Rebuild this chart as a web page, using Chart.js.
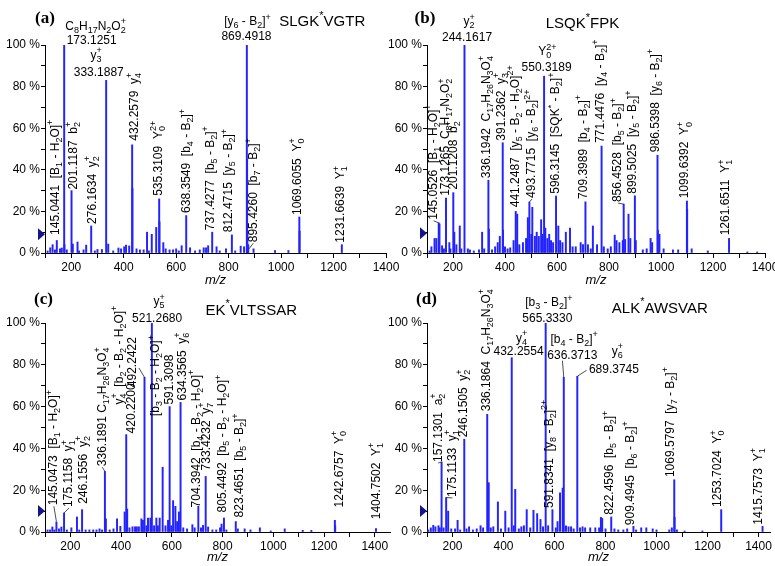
<!DOCTYPE html>
<html>
<head>
<meta charset="utf-8">
<script src="https://cdn.jsdelivr.net/npm/chart.js@4.4.1/dist/chart.umd.min.js"></script>
<style>
  body { margin: 0; background: #fff; width: 775px; height: 566px; overflow: hidden; position: relative; }
  canvas { position: absolute; }
</style>
</head>
<body>
<canvas id="chartA" width="400" height="290" style="left:0;top:0"></canvas>
<canvas id="chartB" width="393" height="290" style="left:382px;top:0"></canvas>
<canvas id="chartC" width="400" height="283" style="left:0;top:283px"></canvas>
<canvas id="chartD" width="393" height="283" style="left:382px;top:283px"></canvas>
<script>
// peaks: [m/z, relative intensity %]
const peaksA = [[110,1],[120,2.5],[129,4],[138,1.5],[145.04,6],[157,2],[164,2.4],[173.13,100],[174.13,4],[183,1.5],[201.12,30],[206,4.3],[224,5.3],[230,1],[247,1.5],[257,3.8],[276.16,13],[290,1],[300,1.7],[317,1.7],[333.19,83],[341,4.3],[360,1],[380,2.4],[390,2],[402,3],[409,3.8],[421,3.4],[432.26,52],[433.26,31],[449,2],[462,1.5],[476,1.5],[489,10],[496,1],[507,9],[524,12.3],[535.31,26],[536.31,15],[551,5],[560,2],[575,1.5],[588,1.5],[600,2],[610,1],[621,3.5],[638.35,18],[653,2.5],[672,1],[690,1.5],[705,2.5],[714,2.5],[722,3.5],[737.43,10],[754,3],[766,1],[790,2],[812.47,8.7],[825,1],[846,3.3],[859,3],[869.49,100],[870.49,45],[871.5,10],[875,4],[895,2],[977,1.2],[1028,1.2],[1069.61,17.3],[1070.61,10.5],[1231.66,4]];
const peaksB = [[110,1],[117,3],[129,7],[136,7],[145.05,14.5],[148,14],[158,3.5],[165,2],[173.13,26.4],[186,5],[190,2],[201.12,29],[205,10],[213,4],[226,13],[232,2],[244.16,100],[257,2],[265,1.5],[280,1],[300,1.5],[312,10],[320,2],[336.19,35],[338,11.5],[350,1.5],[362,3],[372,5],[380,8],[391.24,53],[392.24,11],[400,3],[410,2],[420,2.5],[433,6],[441.25,20],[447,18.7],[455,4],[469,5],[481,7],[488,17],[493.77,24.5],[501,9],[505,22],[515,8],[522,10],[530,8],[539,16],[544,9],[550.32,85],[555,12],[563,7],[570,9],[577,6],[585,5],[596.31,27.4],[605,13],[612,6],[621,5],[634,10],[650,12],[660,3],[672,3],[691,5],[700,4],[709.40,24.6],[719,4],[730,2],[738,13],[754,4],[771.45,51.4],[780,3],[795,2],[807,3],[822,8.6],[829,6],[840,5],[856.45,23.5],[853,6],[862,6.5],[875,18.7],[882,7],[899.50,27.5],[903,6],[930,1.5],[945,2],[960,7],[966,5],[986.54,47],[988,11],[994,9],[1010,2],[1046,1.5],[1066,1.5],[1099.64,25],[1100.64,21],[1118,2],[1180,1],[1261.65,7],[1332,0.5],[1370,0.5]];
const peaksC = [[110,1],[120,1],[129,2.4],[137,1],[145.05,4.8],[155,1.5],[164.6,2.4],[175.12,9.1],[186,1],[204,2],[226,7.2],[235,1],[246.16,10.7],[260,1],[275,1],[290,1],[303,1],[315,1.5],[325,1],[336.19,29],[340,6.3],[355,1],[370,1.5],[384,6.3],[397,2.7],[414,9.6],[420.22,46.6],[424,11],[433,2],[445,2.5],[455,2.5],[462,2.5],[470,2.5],[480,6.3],[486,5.6],[492.24,74],[500,3],[506,6.7],[515.6,6.7],[521.27,100],[530,3],[539,6.7],[545,3],[552,6.7],[563.8,31],[575,3],[585,5.6],[591.31,60],[598,3],[605,15],[614,12.3],[621,5],[628,9.6],[634.36,62],[645,2],[660,1.5],[681,3.5],[690,2],[704.39,12.3],[715,2],[723,3.2],[733.42,26.6],[743,2.4],[760,1],[775,1],[790,2],[796,3.8],[805.45,6.7],[815,1],[852,5],[860,1.5],[887,1.5],[910,1],[947,2],[990,0.5],[1045,1.5],[1116,0.8],[1150,0.8],[1242.68,5.6],[1244,3],[1404.75,1.6]];
const peaksD = [[105,1],[115,2],[124.6,3.2],[133,2.5],[145,3],[150,2],[157.13,33.5],[165,2],[175.11,16.5],[183,10],[195,1.5],[210,1.5],[220,5.6],[230,1],[246.15,44.4],[255,1.5],[265,2.5],[280,1],[295,1.5],[310,3],[320,2],[336.19,56.3],[342,23.6],[350,2],[360,2.5],[378,14.4],[390,1.5],[407,10],[420,2],[432.26,83.4],[440,3],[446,20.4],[460,1.5],[470,2.5],[480,3],[491,10.7],[505,2],[517.5,10.4],[532,8.8],[545,6],[555,2.5],[565.33,100],[575,3],[591.83,10.7],[605,2],[612,5],[621.6,18.7],[632,21],[636.37,74],[645,3],[655,2.5],[665,2.5],[675,1.5],[689.37,74.5],[700,2],[710,2.5],[720,2],[740,2],[760,2],[775,2],[782,7],[787,6.5],[800,1.5],[822.46,7.2],[835,1.5],[850,1],[870,1],[885,1.5],[909.49,2.7],[920,1],[940,2],[960,2],[985,1.5],[1000,1],[1050,1],[1060,2],[1069.58,25],[1071,7],[1080,1],[1110,0.5],[1180,0.5],[1253.70,10.7],[1415.76,2.7]];

// annotations: [text, m/z, %, 'h' horizontal | 'v' vertical, leader m/z, leader %]
const labelsA = [
  ["C_8H_{17}N_2O_2^+", 293, 109, "h"],
  ["173.1251", 278, 102, "h"],
  ["[y_6 - B_2]^+", 872, 111, "h"],
  ["869.4918", 868, 103.8, "h"],
  ["y_3^+", 295, 95, "h"],
  ["333.1887", 305, 86.5, "h"],
  ["145.0441  [B_1 - H_2O]^+", 139, 8.2, "v"],
  ["201.1187  b_2^+", 209, 30, "v"],
  ["276.1634  y_2^+", 282, 13.5, "v"],
  ["432.2579  y_4^+", 441, 53.5, "v"],
  ["535.3109  Y_0^{2+}", 533, 27, "v"],
  ["638.3549  [b_4 - B_2]^+", 641, 18.8, "v"],
  ["737.4277  [b_5 - B_2]^+", 732, 10.5, "v"],
  ["812.4715  [y_5 - B_2]^+", 802, 9.5, "v"],
  ["895.4260  [b_7 - B_2]^+", 894, 4.7, "v", 878, 2],
  ["1069.6055  Y_0^+", 1062, 17.8, "v"],
  ["1231.6639  Y_1^+", 1229, 4.5, "v"]
];
const labelsB = [
  ["y_2^+", 262, 111, "h"],
  ["244.1617", 254, 103.4, "h"],
  ["Y_0^{2+}", 563, 96.6, "h"],
  ["550.3189", 560, 89, "h"],
  ["145.0526  [B_1 - H_2O]^+", 125, 15.5, "v", 145, 14.5],
  ["173.1265  C_8H_{17}N_2O_2^+", 173, 27, "v"],
  ["201.1208  b_2^+", 202, 30, "v"],
  ["336.1942  C_{17}H_{26}N_3O_4^+", 329, 35.5, "v"],
  ["391.2362  y_3^+", 386.5, 53.5, "v"],
  ["441.2487  [y_5 - B_2 - H_2O]^{2+}", 441, 21.5, "v"],
  ["493.7715  [y_6 - B_2]^{2+}", 504, 26, "v", 494, 24.5],
  ["596.3145  [SQK^* - B_2]^+", 596, 28, "v"],
  ["709.3989  [b_4 - B_2]^+", 701, 25.5, "v"],
  ["771.4476  [y_4 - B_2]^+", 767, 52.5, "v"],
  ["856.4528  [b_5 - B_2]^+", 835, 24, "v", 856, 23.5],
  ["899.5025  [y_5 - B_2]^+", 891.6, 28, "v"],
  ["986.5398  [y_6 - B_2]^+", 979, 48, "v"],
  ["1099.6392  Y_0^+", 1093, 25.8, "v"],
  ["1261.6511  Y_1^+", 1250, 8, "v"]
];
const labelsC = [
  ["y_5^+", 550, 110, "h"],
  ["521.2680", 542, 102.3, "h"],
  ["145.0473  [B_1 - H_2O]^+", 135, 12.3, "v", 145, 5],
  ["175.1158  y_1^+", 195, 11.5, "v", 175, 9.1],
  ["246.1556  y_2^+", 252, 13, "v"],
  ["336.1891 C_{17}H_{26}N_3O_4^+", 326, 31, "v", 336, 29],
  ["y_4^+  [b_2 - B_2 - H_2O]^+", 394, 60.5, "v"],
  ["420.2200", 442, 46.7, "v"],
  ["492.2422", 446, 68.8, "v"],
  ["[b_3 - B_2 - H_2O]^+", 537, 55, "v"],
  ["591.3098", 592, 60.5, "v"],
  ["634.3565  y_6^+", 641.7, 62.5, "v"],
  ["704.3942  [b_4 - B_2 - H_2O]^+", 698, 11.3, "v"],
  ["733.4232  y_7^+", 737.5, 29, "v"],
  ["805.4492  [b_5 - B_2 - H_2O]^+", 801, 8.9, "v"],
  ["823.4651  [b_5 - B_2]^+", 868, 6.5, "v"],
  ["1242.6757  Y_0^+", 1262, 11.3, "v"],
  ["1404.7502  Y_1^+", 1408, 5.6, "v"]
];
const labelsD = [
  ["[b_3 - B_2]^+", 578, 109.5, "h"],
  ["565.3330", 572, 102.2, "h"],
  ["y_4^+", 471, 92.7, "h"],
  ["432.2554", 459, 86.2, "h"],
  ["[b_4 - B_2]^+", 677, 92.2, "h"],
  ["636.3713", 670, 84.5, "h"],
  ["y_6^+", 847, 86.4, "h"],
  ["689.3745", 833, 77.8, "h"],
  ["157.1301  a_2^+", 144, 33, "v", 157.13, 33.5],
  ["175.1133  y_1^+", 199.5, 16.3, "v", 175.11, 16.5],
  ["246.1505  y_2^+", 245.5, 44.8, "v"],
  ["336.1864  C_{17}H_{26}N_3O_4^+", 333, 57.3, "v"],
  ["591.8341  [y_8 - B_2]^{2+}", 580, 11, "v"],
  ["822.4596  [b_5 - B_2]^+", 818, 7.8, "v"],
  ["909.4945  [b_6 - B_2]^+", 898.6, 2.8, "v"],
  ["1069.5797  [y_7 - B_2]^+", 1054.7, 25.8, "v"],
  ["1253.7024  Y_0^+", 1240.5, 11.5, "v"],
  ["1415.7573  Y_1^+", 1399, 3, "v"]
];
// leader strokes drawn between two points in data units: [m/z1, %1, m/z2, %2]
const leadersD = [[636.37, 74, 631, 82], [689.37, 74.5, 726, 77.4]];
const leadersC = [[492.24, 74, 470, 78.5]];

const peptides = ["SLGK^*VGTR", "LSQK^*FPK", "EK^*VLTSSAR", "ALK^*AWSVAR"];
const letters = ["(a)", "(b)", "(c)", "(d)"];
const thresholds = [9, 9.5, 10, 10];

const FONT = 'Arial, "Liberation Sans", sans-serif';
Chart.defaults.font.family = FONT;
Chart.defaults.color = "#000";

// split "C_8H_{17}^+" into plain / sub / sup pieces
function pieces(s) {
  const out = [];
  let i = 0;
  while (i < s.length) {
    const c = s[i];
    if ((c === "_" || c === "^") && i + 1 < s.length) {
      let t;
      if (s[i + 1] === "{") { const j = s.indexOf("}", i); t = s.slice(i + 2, j); i = j + 1; }
      else { t = s[i + 1]; i += 2; }
      out.push({ t, m: c });
    } else {
      let j = i;
      while (j < s.length && s[j] !== "_" && s[j] !== "^") j++;
      out.push({ t: s.slice(i, j), m: "" });
      i = j;
    }
  }
  return out;
}

function drawRich(ctx, s, x0, y0, size, measureOnly) {
  const small = Math.round(size * 0.72);
  let x = x0, subStart = null, subEnd = 0;
  ctx.textAlign = "left";
  ctx.textBaseline = "middle";
  for (const p of pieces(s)) {
    if (p.m === "") {
      ctx.font = size + "px " + FONT;
      if (!measureOnly) ctx.fillText(p.t, x, y0);
      x += ctx.measureText(p.t).width;
      subStart = null;
    } else if (p.m === "_") {
      ctx.font = small + "px " + FONT;
      if (!measureOnly) ctx.fillText(p.t, x, y0 + size * 0.32);
      subStart = x;
      x += ctx.measureText(p.t).width;
      subEnd = x;
    } else {
      ctx.font = small + "px " + FONT;
      const sx = subStart !== null ? subStart : x;
      if (!measureOnly) ctx.fillText(p.t, sx, y0 - size * 0.4);
      x = Math.max(subStart !== null ? subEnd : x, sx + ctx.measureText(p.t).width);
      subStart = null;
    }
  }
  return x - x0;
}

const spectrumText = {
  id: "spectrumText",
  afterDraw(chart, args, opts) {
    const { ctx, chartArea } = chart;
    const xs = chart.scales.x, ys = chart.scales.y;
    ctx.save();

    // threshold marker left of the y axis
    const ty = ys.getPixelForValue(opts.threshold);
    ctx.fillStyle = "#14148c";
    ctx.beginPath();
    ctx.moveTo(chartArea.left, ty);
    ctx.lineTo(chartArea.left - 7, ty - 6);
    ctx.lineTo(chartArea.left - 7, ty + 6);
    ctx.closePath();
    ctx.fill();

    ctx.fillStyle = "#000";
    ctx.font = 'bold 17px "Times New Roman", "Liberation Serif", serif';
    ctx.textAlign = "center";
    ctx.textBaseline = "middle";
    ctx.fillText(opts.letter, opts.letterPos[0], opts.letterPos[1]);

    const pep = opts.peptide;
    const pw = drawRich(ctx, pep[0], 0, 0, 15, true);
    drawRich(ctx, pep[0], xs.getPixelForValue(pep[1]) - pw / 2, ys.getPixelForValue(pep[2]), 15);

    ctx.strokeStyle = "#222";
    ctx.lineWidth = 0.8;
    for (const l of opts.leaders) {
      ctx.beginPath();
      ctx.moveTo(xs.getPixelForValue(l[0]), ys.getPixelForValue(l[1]));
      ctx.lineTo(xs.getPixelForValue(l[2]), ys.getPixelForValue(l[3]));
      ctx.stroke();
    }

    for (const lab of opts.labels) {
      const [text, mz, h, dir, lmz, lh] = lab;
      const px = xs.getPixelForValue(mz), py = ys.getPixelForValue(h);
      if (lmz !== undefined) {
        ctx.beginPath();
        ctx.moveTo(xs.getPixelForValue(lmz), ys.getPixelForValue(lh));
        ctx.lineTo(px, py);
        ctx.stroke();
      }
      if (dir === "v") {
        ctx.save();
        ctx.translate(px, py);
        ctx.rotate(-Math.PI / 2);
        drawRich(ctx, text, 1, 0, 12);
        ctx.restore();
      } else {
        const w = drawRich(ctx, text, 0, 0, 12, true);
        drawRich(ctx, text, px - w / 2, py, 12);
      }
    }
    ctx.restore();
  }
};

function makeChart(id, peaks, labels, leaders, i, cfg) {
  new Chart(document.getElementById(id), {
    type: "bar",
    data: {
      datasets: [{
        data: peaks.map(p => ({ x: p[0], y: p[1] })),
        backgroundColor: "#2323ff",
        barThickness: 1.3
      }]
    },
    options: {
      responsive: false,
      animation: false,
      events: [],
      layout: { padding: { top: cfg.top, right: cfg.right, left: 0, bottom: 0 } },
      plugins: {
        legend: { display: false },
        tooltip: { enabled: false },
        spectrumText: {
          labels: labels, leaders: leaders, peptide: [peptides[i], cfg.pep[0], cfg.pep[1]],
          letter: letters[i], letterPos: cfg.letterPos, threshold: thresholds[i]
        }
      },
      scales: {
        x: {
          type: "linear", min: 100, max: cfg.xmax, offset: false,
          grid: { offset: false, drawOnChartArea: false, tickLength: 5, tickColor: "#000" },
          border: { color: "#000", width: 1 },
          ticks: {
            stepSize: 100, includeBounds: false, autoSkip: false, maxRotation: 0, padding: 2,
            font: { size: 12 }, color: "#000",
            callback: v => (v % 200 === 0 ? v : "")
          },
          title: { display: true, text: "m/z", font: { size: 13, style: "italic" }, padding: { top: 0, bottom: cfg.titlePad } },
          afterFit: s => { s.height = cfg.xH; s.paddingLeft = 0; s.paddingRight = 0; }
        },
        y: {
          min: 0, max: 100,
          grid: { drawOnChartArea: false, tickLength: 4, tickColor: "#000" },
          border: { color: "#000", width: 1 },
          ticks: {
            stepSize: 10, autoSkip: false, padding: 1, font: { size: 12 }, color: "#000",
            callback: v => (v % 20 === 0 ? v + " %" : "")
          },
          afterFit: s => { s.width = 45; }
        }
      }
    },
    plugins: [spectrumText]
  });
}

makeChart("chartA", peaksA, labelsA, [], 0, { top: 45, right: 14, xH: 37, xmax: 1400, titlePad: 2, pep: [1157, 111], letterPos: [45, 19] });
makeChart("chartB", peaksB, labelsB, [], 1, { top: 45, right: 10, xH: 37, xmax: 1400, titlePad: 2, pep: [698, 110], letterPos: [43, 19] });
makeChart("chartC", peaksC, labelsC, leadersC, 2, { top: 40, right: 10, xH: 34, xmax: 1460, titlePad: 1, pep: [913, 106], letterPos: [43.5, 17] });
makeChart("chartD", peaksD, labelsD, leadersD, 3, { top: 40, right: 5, xH: 34, xmax: 1445, titlePad: 1, pep: [1013, 107], letterPos: [44.5, 17] });
</script>
</body>
</html>
